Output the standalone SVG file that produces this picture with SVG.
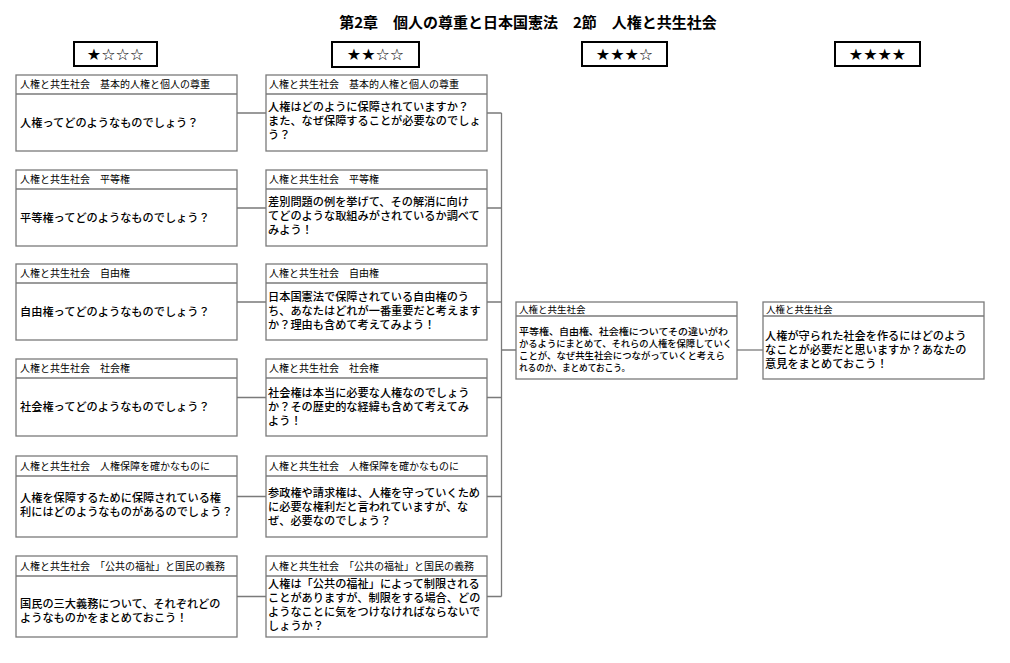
<svg xmlns="http://www.w3.org/2000/svg" width="1010" height="663" viewBox="0 0 1010 663">
<style>
text{font-family:"Noto Sans CJK JP","Noto Sans CJK SC",sans-serif;fill:#000}
.title{font-size:15px;font-weight:bold}
.star{fill:#fff;stroke:#000;stroke-width:2}
.st{font-family:"DejaVu Sans",sans-serif;font-size:16px;text-anchor:middle}
.box{fill:#fff;stroke:#7a7a7a;stroke-width:1.3}
.hl{stroke:#7a7a7a;stroke-width:1.3}
.hd{font-size:10px}
.hs{font-size:9.5px}
.bd{font-size:11.2px;font-weight:500}
.bs{font-size:9.5px;font-weight:500}
.conn{fill:none;stroke:#7a7a7a;stroke-width:1.3}
</style>
<rect width="1010" height="663" fill="#fff"/>
<text class="title" x="528" y="28" text-anchor="middle">第2章　個人の尊重と日本国憲法　2節　人権と共生社会</text>

<g id="level1"><rect class="star" x="74" y="42" width="83" height="24"/><text class="st" x="115.5" y="60">★☆☆☆</text></g>
<g id="level2"><rect class="star" x="332" y="42" width="87" height="25"/><text class="st" x="375.5" y="60">★★☆☆</text></g>
<g id="level3"><rect class="star" x="582" y="42" width="85" height="24"/><text class="st" x="624.5" y="60">★★★☆</text></g>
<g id="level4"><rect class="star" x="835" y="42" width="85" height="24"/><text class="st" x="877.5" y="60">★★★★</text></g>

<g id="connectors">
<path class="conn" d="M237 113H266M237 208H266M237 302H266M237 397.5H266M237 496.5H266M237 596.5H266"/>
<path class="conn" d="M487 113H501.5M487 208H501.5M487 302H501.5M487 397.5H501.5M487 496.5H501.5M487 596.5H501.5M501.5 113V596.5M501.5 350H516"/>
<path class="conn" d="M737 350H763"/>
</g>

<g id="c1r1"><rect class="box" x="16" y="75" width="221" height="76"/><line class="hl" x1="16" y1="94" x2="237" y2="94"/>
<text class="hd" x="20" y="88">人権と共生社会　基本的人権と個人の尊重</text>
<text class="bd" x="20" y="126.5">人権ってどのようなものでしょう？</text></g>
<g id="c1r2"><rect class="box" x="16" y="170" width="221" height="76"/><line class="hl" x1="16" y1="189" x2="237" y2="189"/>
<text class="hd" x="20" y="183">人権と共生社会　平等権</text>
<text class="bd" x="20" y="221.5">平等権ってどのようなものでしょう？</text></g>
<g id="c1r3"><rect class="box" x="16" y="264" width="221" height="76"/><line class="hl" x1="16" y1="283" x2="237" y2="283"/>
<text class="hd" x="20" y="277">人権と共生社会　自由権</text>
<text class="bd" x="20" y="315.5">自由権ってどのようなものでしょう？</text></g>
<g id="c1r4"><rect class="box" x="16" y="359" width="221" height="77"/><line class="hl" x1="16" y1="378" x2="237" y2="378"/>
<text class="hd" x="20" y="372">人権と共生社会　社会権</text>
<text class="bd" x="20" y="411">社会権ってどのようなものでしょう？</text></g>
<g id="c1r5"><rect class="box" x="16" y="456" width="221" height="81"/><line class="hl" x1="16" y1="476" x2="237" y2="476"/>
<text class="hd" x="20" y="469.5">人権と共生社会　人権保障を確かなものに</text>
<text class="bd" x="20" y="502">人権を保障するために保障されている権</text>
<text class="bd" x="20" y="516">利にはどのようなものがあるのでしょう？</text></g>
<g id="c1r6"><rect class="box" x="16" y="556" width="221" height="81"/><line class="hl" x1="16" y1="576" x2="237" y2="576"/>
<text class="hd" x="20" y="569.5">人権と共生社会　「公共の福祉」と国民の義務</text>
<text class="bd" x="20" y="608">国民の三大義務について、それぞれどの</text>
<text class="bd" x="20" y="622">ようなものかをまとめておこう！</text></g>

<g id="c2r1"><rect class="box" x="266" y="75" width="221" height="76"/><line class="hl" x1="266" y1="94" x2="487" y2="94"/>
<text class="hd" x="269" y="88">人権と共生社会　基本的人権と個人の尊重</text>
<text class="bd" x="268" y="111">人権はどのように保障されていますか？</text>
<text class="bd" x="268" y="125">また、なぜ保障することが必要なのでしょ</text>
<text class="bd" x="268" y="139">う？</text></g>
<g id="c2r2"><rect class="box" x="266" y="170" width="221" height="76"/><line class="hl" x1="266" y1="189" x2="487" y2="189"/>
<text class="hd" x="269" y="183">人権と共生社会　平等権</text>
<text class="bd" x="268" y="206">差別問題の例を挙げて、その解消に向け</text>
<text class="bd" x="268" y="220">てどのような取組みがされているか調べて</text>
<text class="bd" x="268" y="234">みよう！</text></g>
<g id="c2r3"><rect class="box" x="266" y="264" width="221" height="76"/><line class="hl" x1="266" y1="283" x2="487" y2="283"/>
<text class="hd" x="269" y="277">人権と共生社会　自由権</text>
<text class="bd" x="268" y="301">日本国憲法で保障されている自由権のう</text>
<text class="bd" x="268" y="315">ち、あなたはどれが一番重要だと考えます</text>
<text class="bd" x="268" y="329">か？理由も含めて考えてみよう！</text></g>
<g id="c2r4"><rect class="box" x="266" y="359" width="221" height="77"/><line class="hl" x1="266" y1="378" x2="487" y2="378"/>
<text class="hd" x="269" y="372">人権と共生社会　社会権</text>
<text class="bd" x="268" y="397">社会権は本当に必要な人権なのでしょう</text>
<text class="bd" x="268" y="411">か？その歴史的な経緯も含めて考えてみ</text>
<text class="bd" x="268" y="425">よう！</text></g>
<g id="c2r5"><rect class="box" x="266" y="456" width="221" height="81"/><line class="hl" x1="266" y1="476" x2="487" y2="476"/>
<text class="hd" x="269" y="469.5">人権と共生社会　人権保障を確かなものに</text>
<text class="bd" x="268" y="497">参政権や請求権は、人権を守っていくため</text>
<text class="bd" x="268" y="511">に必要な権利だと言われていますが、な</text>
<text class="bd" x="268" y="525">ぜ、必要なのでしょう？</text></g>
<g id="c2r6"><rect class="box" x="266" y="556" width="221" height="81"/><line class="hl" x1="266" y1="576" x2="487" y2="576"/>
<text class="hd" x="269" y="569.5">人権と共生社会　「公共の福祉」と国民の義務</text>
<text class="bd" x="268" y="588">人権は「公共の福祉」によって制限される</text>
<text class="bd" x="268" y="602">ことがありますが、制限をする場合、どの</text>
<text class="bd" x="268" y="616">ようなことに気をつけなければならないで</text>
<text class="bd" x="268" y="630">しょうか？</text></g>

<g id="c3"><rect class="box" x="516" y="302" width="221" height="77"/><line class="hl" x1="516" y1="316" x2="737" y2="316"/>
<text class="hs" x="519" y="312.5">人権と共生社会</text>
<text class="bs" x="519" y="335" textLength="209" lengthAdjust="spacingAndGlyphs">平等権、自由権、社会権についてその違いがわ</text>
<text class="bs" x="519" y="347" textLength="213" lengthAdjust="spacingAndGlyphs">かるようにまとめて、それらの人権を保障していく</text>
<text class="bs" x="519" y="359" textLength="206" lengthAdjust="spacingAndGlyphs">ことが、なぜ共生社会につながっていくと考えら</text>
<text class="bs" x="519" y="371" textLength="111" lengthAdjust="spacingAndGlyphs">れるのか、まとめておこう。</text></g>

<g id="c4"><rect class="box" x="763" y="302" width="221" height="77"/><line class="hl" x1="763" y1="316" x2="984" y2="316"/>
<text class="hs" x="766" y="312.5">人権と共生社会</text>
<text class="bd" x="765" y="340">人権が守られた社会を作るにはどのよう</text>
<text class="bd" x="765" y="354">なことが必要だと思いますか？あなたの</text>
<text class="bd" x="765" y="368">意見をまとめておこう！</text></g>
</svg>
